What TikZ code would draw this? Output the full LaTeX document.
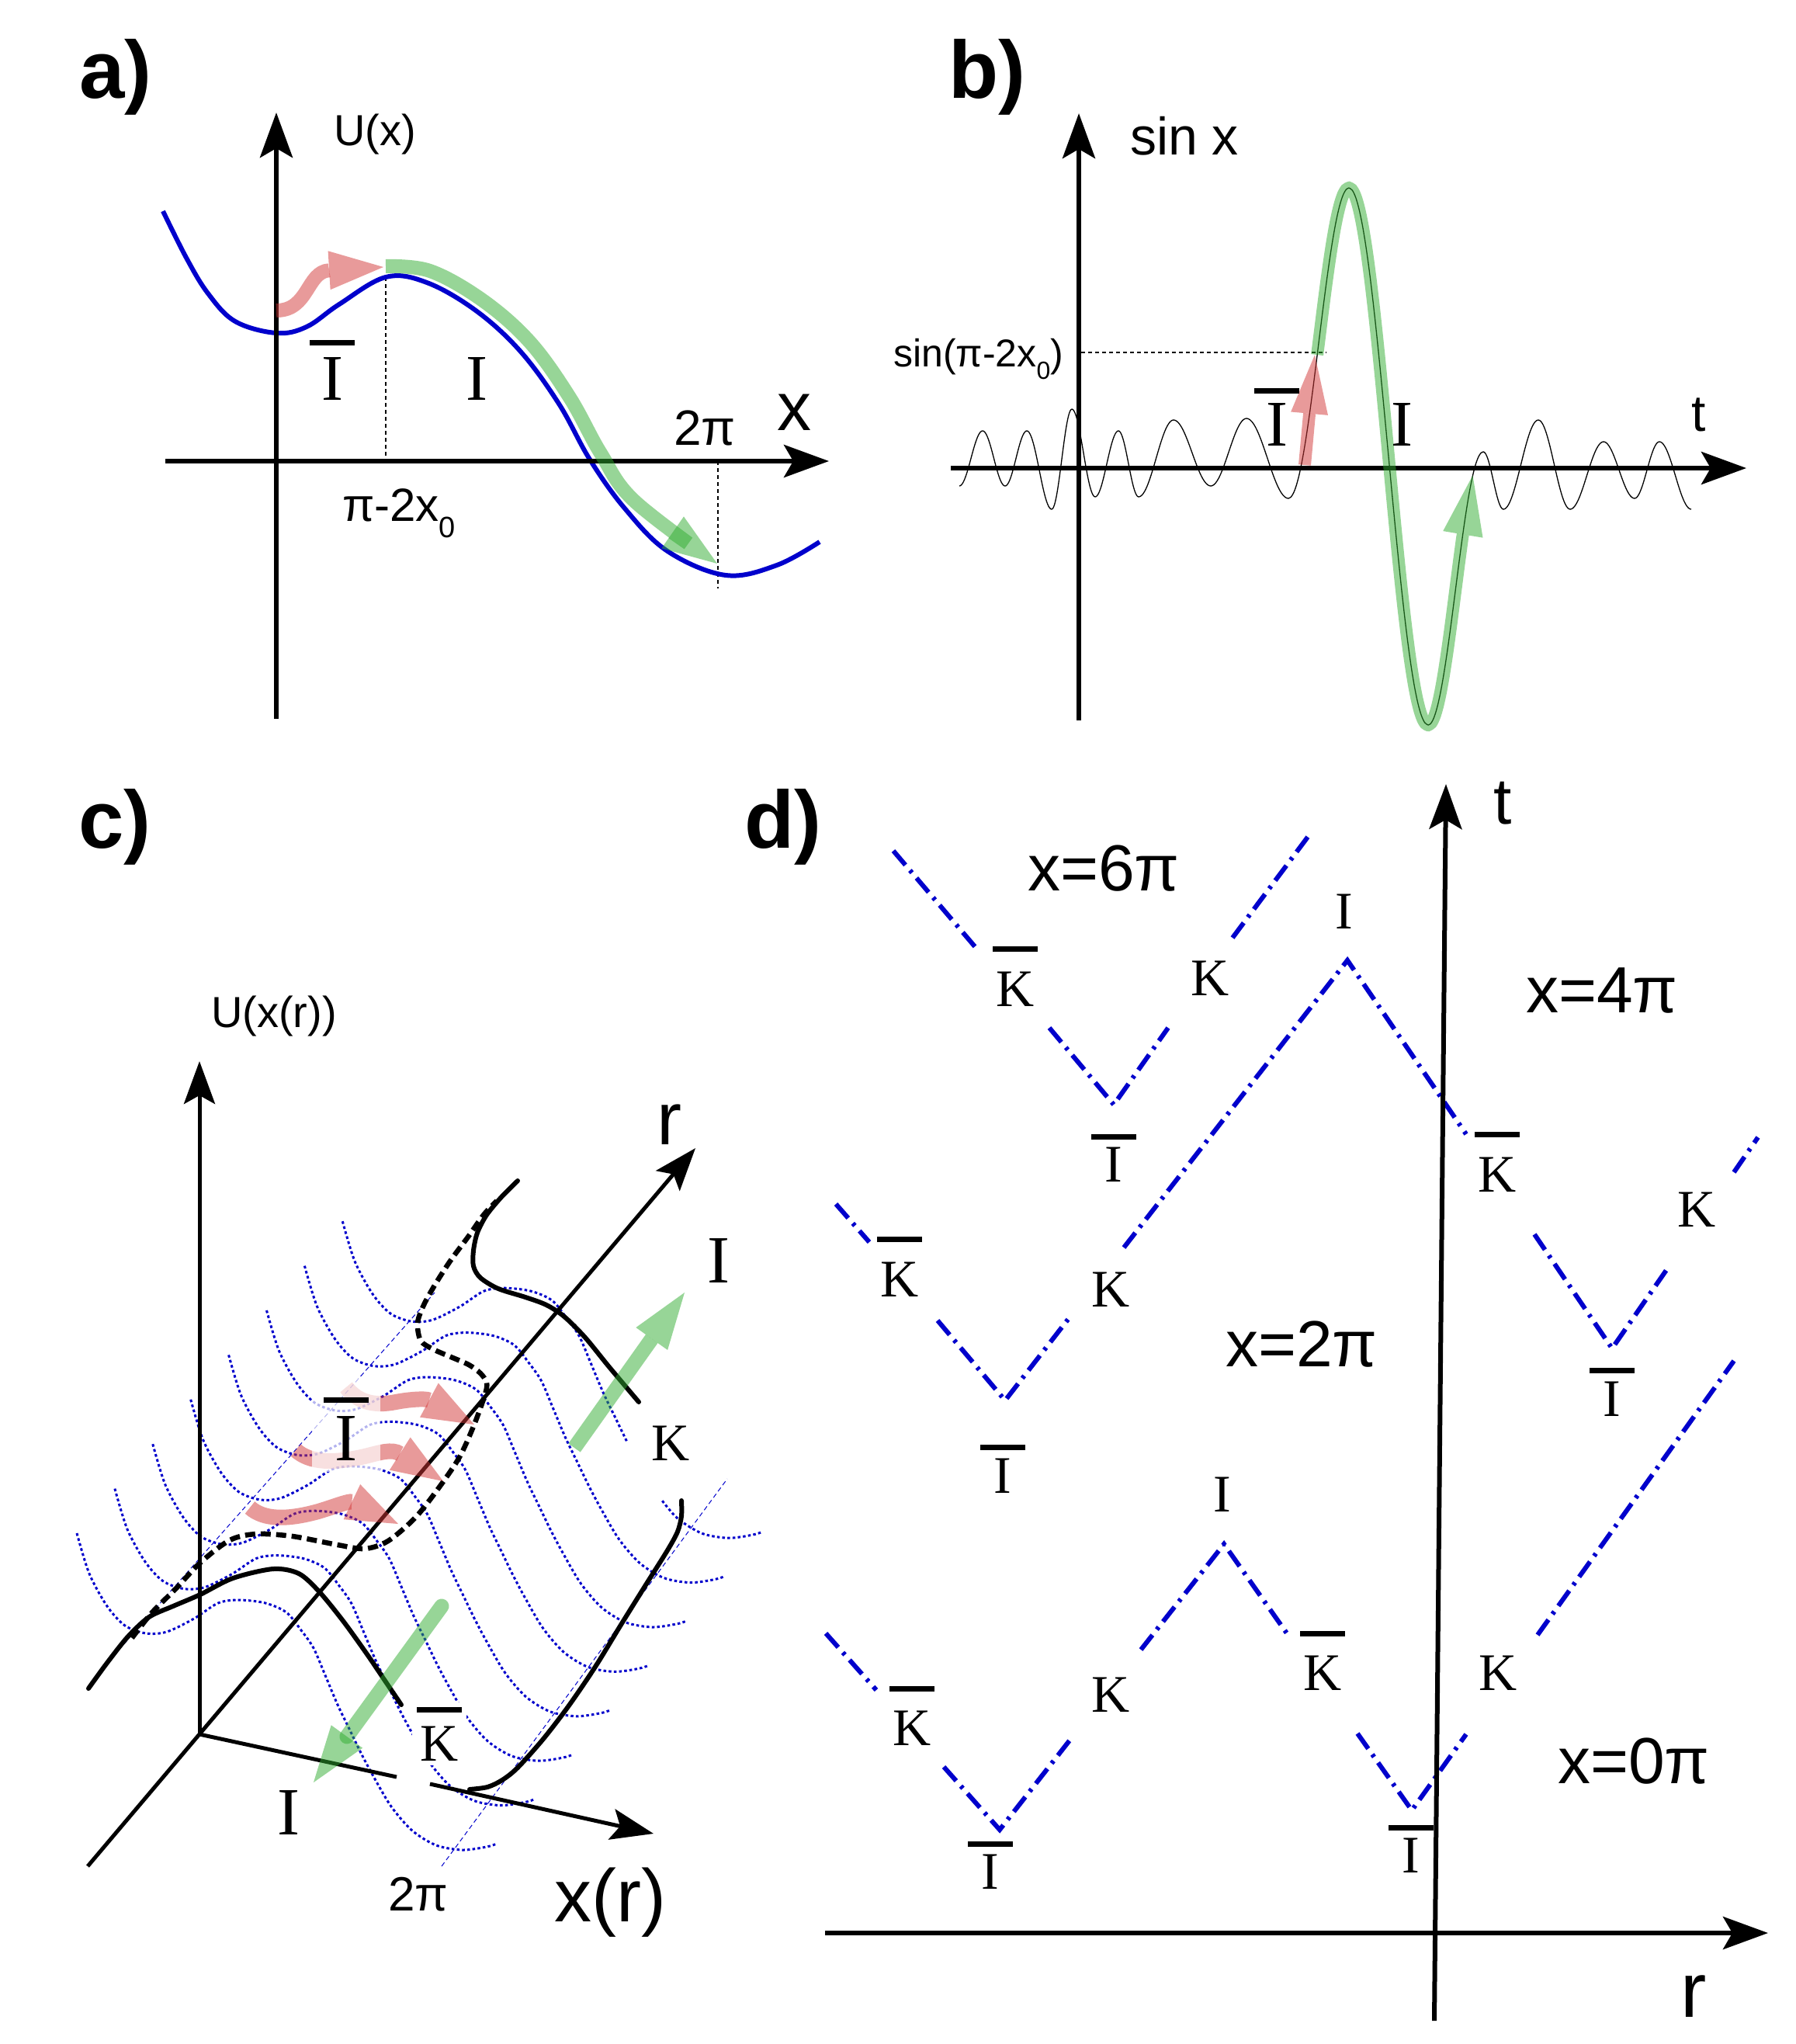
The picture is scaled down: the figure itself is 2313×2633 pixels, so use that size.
\documentclass[tikz,border=0pt]{standalone}
\usepackage{fontspec}
\setmainfont{Liberation Sans}
\newfontfamily\serifI{Liberation Serif}
\usetikzlibrary{arrows.meta}
\definecolor{cblue}{RGB}{0,0,204}
\definecolor{cpink}{RGB}{211,55,55}
\definecolor{cgreen}{RGB}{49,173,49}
\newcommand{\fs}[1]{\fontsize{#1}{#1}\selectfont}
\newcommand{\ovb}[2]{\vbox{\offinterlineskip\halign{\hfil##\hfil\cr\vrule width 58pt height 7pt depth 0pt\cr\noalign{\kern #2}#1\cr}}}
\tikzset{
  axa/.style={line width=6pt,-{Stealth[length=58pt,width=42pt,inset=12pt]}},
  axc/.style={line width=5pt,-{Stealth[length=55pt,width=40pt,inset=11pt]}},
  ublue/.style={cblue,line width=6pt},
  thinosc/.style={line width=1.3pt},
  guide/.style={line width=1.3pt,dash pattern=on 5pt off 4pt},
  pinkarr/.style={cpink,opacity=0.5,line width=18pt,-{Triangle[length=70pt,width=50pt,line width=0pt]}},
  greenarr/.style={cgreen,opacity=0.5,line width=18pt,-{Triangle[length=70pt,width=50pt,line width=0pt]}},
  dotc/.style={cblue,line width=3pt,dash pattern=on 3.5pt off 3.2pt},
  thinbluedash/.style={cblue,line width=1pt,dash pattern=on 6pt off 4pt},
  solidc/.style={line width=6pt,line join=round,line cap=round},
  dashc/.style={line width=6.5pt,dash pattern=on 13pt off 7pt},
  dd/.style={cblue,line width=6pt,dash pattern=on 24pt off 9pt on 4pt off 9pt},
  lab/.style={inner sep=0pt,anchor=base},
  labw/.style={inner sep=0pt,anchor=base west},
  panel/.style={labw,font=\fs{105}\bfseries},
  ser/.style={lab,font=\serifI\fs{84}},
  serd/.style={lab,font=\serifI\fs{68}}
}
\begin{document}
\begin{tikzpicture}[x=1pt,y=-1pt]
\useasboundingbox (0,0) rectangle (2313,2633);
\fill[white] (0,0) rectangle (2313,2633);

% ================= panel a =================
\coordinate (aYb) at (356,926);
\coordinate (aYt) at (356,145);
\coordinate (aXl) at (213,594);
\coordinate (aXr) at (1068,594);
\draw[guide] (497,357) -- (497,594);
\draw[guide] (925,594) -- (925,758);
\draw[ublue] plot[smooth,tension=0.6] coordinates {(210,272) (240,332) (268,378) (303,414) (356,429) (395,421) (437,392) (497,357) (550,364) (613,400) (670,452) (720,520) (760,592) (805,655) (860,710) (935,741) (1001,728) (1056,698)};
\draw[axa] (aYb) -- (aYt);
\draw[axa] (aXl) -- (aXr);
\draw[pinkarr] (356,400) .. controls (398,400) and (395,350) .. (494,344);
\draw[greenarr] plot[smooth,tension=0.6] coordinates {(497,343) (554,349) (622,387) (683,441) (734,512) (774,584) (817,645) (924,726)};
\node[panel] (la) at (102,127) {a)};
\node[labw,font=\fs{56}] (aU) at (430,188) {U(x)};
\node[ser] (aIb) at (428,515) {\ovb{I}{15pt}};
\node[ser] (aI) at (614,515) {I};
\node[labw,font=\fs{88}] (ax) at (1001,554) {x};
\node[lab,font=\fs{64}] (a2pi) at (908,573) {2π};
\node[labw,font=\fs{60}] (api) at (441,671) {π-2x\raisebox{-21pt}{\fs{38}0}};

% ================= panel b =================
\coordinate (bYb) at (1390,928);
\coordinate (bYt) at (1390,146);
\coordinate (bXl) at (1225,603);
\coordinate (bXr) at (2250,603);
\draw[guide] (1393,454) -- (1709,454);
\foreach \xa/\ya/\xb/\yb in {1236/626/1266/555, 1266/555/1295/626, 1295/626/1323/555, 1323/555/1355/656, 1355/656/1381/527, 1381/527/1411/640, 1411/640/1441/555, 1441/555/1467/640, 1467/640/1512/541, 1512/541/1560/626, 1560/626/1606/539, 1606/539/1660/642, 1660/642/1738/242, 1738/242/1840/934, 1840/934/1911/582, 1911/582/1937/656, 1937/656/1982/541, 1982/541/2023/656, 2023/656/2066/569, 2066/569/2106/642, 2106/642/2138/569, 2138/569/2179/656}
  {\draw[thinosc] plot[domain=0:1,samples=24,smooth] ({\xa+(\xb-\xa)*\x},{\ya+(\yb-\ya)*(1-cos(180*\x))/2});}
\draw[axa] (bYb) -- (bYt);
\draw[axa] (bXl) -- (bXr);
\draw[cgreen,opacity=0.5,line width=16pt,-{Triangle[length=77pt,width=52pt,line width=0pt]}]
  plot[domain=0.476:1,samples=12,smooth] ({1660+78*\x},{642-400*(1-cos(180*\x))/2})
  -- plot[domain=0:1,samples=30,smooth] ({1738+102*\x},{242+692*(1-cos(180*\x))/2})
  -- plot[domain=0:0.62,samples=12,smooth] ({1840+71*\x},{934-352*(1-cos(180*\x))/2})
  -- (1897.5,612.4);
\draw[pinkarr,line width=16pt,-{Triangle[length=76pt,width=48pt,line width=0pt]}] (1681,599) -- (1694,457);
\node[panel] (lb) at (1222,127) {b)};
\node[labw,font=\fs{68}] (bsin) at (1456,200) {sin x};
\node[labw,font=\fs{66}] (bt) at (2179,555) {t};
\node[labw,font=\fs{50}] (bsinpi) at (1151,472) {sin(π-2x\raisebox{-16pt}{\fs{32}0})};
\node[ser] (bIb) at (1645,574) {\ovb{I}{12pt}};
\node[ser] (bI) at (1806,574) {I};

% ================= panel c =================
\coordinate (cO) at (257,2234);
\coordinate (cUt) at (257,1367);
\coordinate (cRb) at (113,2404);
\coordinate (cRt) at (896,1479);
\coordinate (cXa) at (511,2289);
\coordinate (cXb) at (554,2298);
\coordinate (cXt) at (842,2362);
\foreach \k in {0,...,6}{
  \draw[dotc,shift={({\k*48.9},{-\k*57.4})}] plot[smooth] coordinates {(99,1975) (115,2027) (138,2069) (161,2094) (188,2104) (215,2102) (250,2085) (281,2065) (308,2061) (342,2065) (369,2077) (388,2100) (404,2123) (419,2158) (435,2196) (450,2227) (465,2258) (481,2288) (504,2327) (531,2358) (562,2377) (596,2383) (627,2379) (640,2375)};
}
\draw[dotc,shift={(342.3,-401.8)}] plot[smooth] coordinates {(99,1975) (115,2027) (138,2069) (161,2094) (188,2104) (215,2102) (250,2085) (281,2065) (308,2061) (342,2065) (369,2077) (388,2100) (404,2123) (419,2158) (435,2196) (450,2227) (465,2258)};
\draw[dotc,shift={(342.3,-401.8)}] plot[smooth] coordinates {(511,2335) (531,2358) (562,2377) (596,2383) (627,2379) (640,2375)};
\draw[thinbluedash] (140,2140) -- (560,1665);
\draw[thinbluedash] (569,2404) -- (937,1905);
\draw[axc] (cO) -- (cUt);
\draw[axc] (cRb) -- (cRt);
\draw[line width=5pt] (cO) -- (cXa);
\draw[axc] (cXb) -- (cXt);
\draw[solidc] plot[smooth] coordinates {(114,2175) (138,2142) (165,2108) (192,2083) (223,2069) (258,2054) (300,2033) (352,2021) (385,2027) (411,2050) (442,2088) (473,2131) (496,2165) (517,2196)};
\draw[solidc] plot[smooth] coordinates {(667,1521) (646,1542) (627,1565) (615,1588) (610,1611) (610,1631) (619,1646) (642,1660) (677,1671) (704,1681) (727,1696) (754,1723) (785,1761) (823,1806)};
\draw[solidc] plot[smooth] coordinates {(878,1933) (878,1953) (873,1973) (860,1997) (833,2040) (800,2093) (767,2147) (733,2197) (700,2240) (667,2277) (647,2293) (628,2302) (605,2305)};
\draw[dashc] plot[smooth] coordinates {(170,2110) (196,2077) (227,2046) (258,2013) (296,1984) (330,1976) (377,1979) (435,1990) (470,1995) (500,1985) (535,1955) (565,1917) (592,1877) (611,1835) (625,1796) (627,1781) (619,1769) (604,1758) (581,1748) (558,1738) (542,1727) (538,1704) (546,1681) (561,1654) (581,1623) (604,1592) (623,1565) (640,1547)};
\draw[pinkarr,line width=20pt,-{Triangle[length=66pt,width=50pt,line width=0pt]}] (446,1787) .. controls (460,1805) and (480,1812) .. (510,1806) .. controls (525,1803) and (548,1801) .. (611,1835);
\draw[pinkarr,line width=20pt,-{Triangle[length=66pt,width=50pt,line width=0pt]}] (381,1868) .. controls (400,1885) and (430,1885) .. (470,1876) .. controls (490,1871) and (505,1866) .. (571,1908);
\draw[pinkarr,line width=20pt,-{Triangle[length=66pt,width=50pt,line width=0pt]}] (322,1942) .. controls (340,1958) and (370,1958) .. (410,1947) .. controls (430,1941) and (450,1933) .. (513,1963);
\fill[white,opacity=0.7] (402,1776) rectangle (490,1896);
\draw[greenarr,line width=19pt,-{Triangle[length=73pt,width=50pt,line width=0pt]}] (740,1865) -- (882,1665);
\draw[greenarr,line width=19pt,line cap=round,-{Triangle[length=73pt,width=50pt,line width=0pt]}] (569,2069) -- (404,2296);
\node[panel] (lc) at (101,1092) {c)};
\node[labw,font=\fs{56}] (cU) at (272,1323) {U(x(r))};
\node[labw,font=\fs{96}] (cr) at (846,1474) {r};
\node[labw,font=\fs{96}] (cxr) at (714,2475) {x(r)};
\node[labw,font=\fs{62}] (c2pi) at (500,2461) {2π};
\node[ser,font=\serifI\fs{87}] (cIr) at (926,1652) {I};
\node[serd] (cK) at (864,1881) {K};
\node[serd,fill=white,inner sep=6pt] (cKb) at (566,2268) {\ovb{K}{18pt}};
\node[ser,font=\serifI\fs{87}] (cIb) at (446,1881) {\ovb{I}{17pt}};
\node[ser,font=\serifI\fs{87}] (cIl) at (372,2363) {I};

% ================= panel d =================
\coordinate (dTb) at (1848,2603);
\coordinate (dTt) at (1863,1010);
\coordinate (dRl) at (1063,2490);
\coordinate (dRr) at (2278,2490);
\draw[dd] (1151,1096) -- (1260,1224);
\draw[dd] (1352,1324) -- (1435,1423) -- (1505,1324);
\draw[dd] (1588,1208) -- (1688,1074);
\draw[dd] (1077,1551) -- (1120,1600);
\draw[dd] (1208,1701) -- (1295,1804) -- (1378,1697);
\draw[dd] (1448,1607) -- (1736,1237) -- (1889,1461);
\draw[dd] (1977,1590) -- (2077,1737) -- (2147,1636);
\draw[dd] (2234,1510) -- (2265,1465);
\draw[dd] (1064,2104) -- (1129,2177);
\draw[dd] (1216,2276) -- (1288,2357) -- (1378,2242);
\draw[dd] (1470,2125) -- (1577,1989) -- (1658,2104);
\draw[dd] (1749,2233) -- (1819,2332) -- (1889,2234);
\draw[dd] (1981,2106) -- (2234,1753);
\draw[axa] (dTb) -- (dTt);
\draw[axa] (dRl) -- (dRr);
\node[panel] (ld) at (959,1092) {d)};
\node[labw,font=\fs{84}] (dt) at (1924,1061) {t};
\node[labw,font=\fs{100}] (dr) at (2165,2598) {r};
\node[lab,font=\fs{84}] (d6) at (1422,1147) {x=6π};
\node[lab,font=\fs{84}] (d4) at (2064,1304) {x=4π};
\node[lab,font=\fs{84}] (d2) at (1677,1760) {x=2π};
\node[lab,font=\fs{84}] (d0) at (2105,2297) {x=0π};
\node[serd] (dKb1) at (1308,1296) {\ovb{K}{25pt}};
\node[serd] (dK1) at (1559,1282) {K};
\node[serd] (dIt) at (1732,1196) {I};
\node[serd] (dIb1) at (1435,1522) {\ovb{I}{9pt}};
\node[serd] (dKb2) at (1929,1535) {\ovb{K}{25pt}};
\node[serd] (dK2) at (2186,1580) {K};
\node[serd] (dIb2) at (2077,1824) {\ovb{I}{10pt}};
\node[serd] (dKb3) at (1159,1670) {\ovb{K}{25pt}};
\node[serd] (dK3) at (1431,1683) {K};
\node[serd] (dIb3) at (1292,1923) {\ovb{I}{10pt}};
\node[serd] (dIbot) at (1575,1947) {I};
\node[serd] (dKb4) at (1175,2248) {\ovb{K}{25pt}};
\node[serd] (dK4) at (1431,2205) {K};
\node[serd] (dIb4) at (1276,2433) {\ovb{I}{10pt}};
\node[serd] (dKb5) at (1704,2177) {\ovb{K}{25pt}};
\node[serd] (dK5) at (1930,2177) {K};
\node[serd] (dIb5) at (1818,2412) {\ovb{I}{10pt}};
\end{tikzpicture}
\end{document}
